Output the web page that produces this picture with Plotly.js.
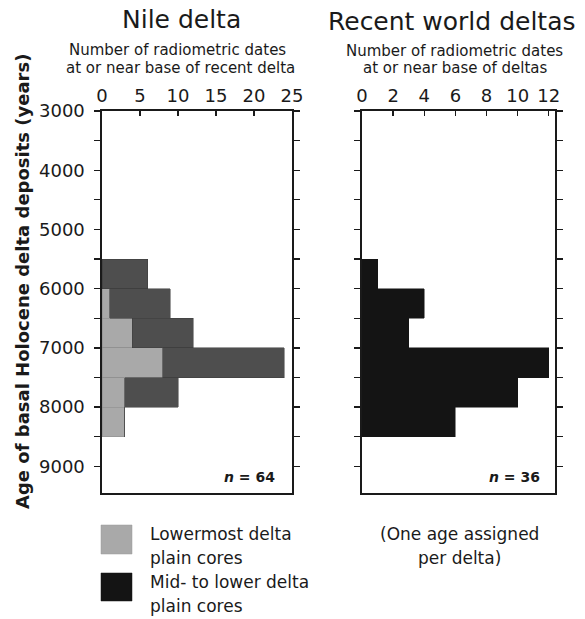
<!DOCTYPE html>
<html>
<head>
<meta charset="utf-8">
<script src="https://cdn.plot.ly/plotly-3.0.1.min.js"></script>
<style>html,body{margin:0;padding:0;background:#fff;}#chart{width:585px;height:619px;}</style>
</head>
<body>
<div id="chart"></div>
<script>
// Data (bins of 500 years, centre ages)
var binCenters = [5750, 6250, 6750, 7250, 7750, 8250];
var nileLowermost = [0, 1, 4, 8, 3, 3];      // Lowermost delta plain cores
var nileMidLower  = [6, 8, 8, 16, 7, 0];     // Mid- to lower delta plain cores (stacked)
var worldCounts   = [1, 4, 3, 12, 10, 6];    // Recent world deltas
var ageTicks = [3000, 3500, 4000, 4500, 5000, 5500, 6000, 6500, 7000, 7500, 8000, 8500, 9000];
var ageLabels = ['3000', '', '4000', '', '5000', '', '6000', '', '7000', '', '8000', '', '9000'];
var nileTicks = [0, 5, 10, 15, 20, 25];
var worldTicks = [0, 2, 4, 6, 8, 10, 12];

var W = 585, H = 619;
function px(x) { return x / W; }
function py(y) { return 1 - y / H; }

var F = 'DejaVu Sans, sans-serif';
var ink = '#1a1a1a';

var traces = [
  {type: 'bar', orientation: 'h', y: binCenters, x: nileLowermost, width: 500,
   marker: {color: '#a9a9a9', line: {color: '#8a8a8a', width: 0.5}}, xaxis: 'x', yaxis: 'y', hoverinfo: 'x+y'},
  {type: 'bar', orientation: 'h', y: binCenters, x: nileMidLower, width: 500,
   marker: {color: '#4e4e4e', line: {color: '#3a3a3a', width: 0.5}}, xaxis: 'x', yaxis: 'y', hoverinfo: 'x+y'},
  {type: 'bar', orientation: 'h', y: binCenters, x: worldCounts, width: 500,
   marker: {color: '#141414', line: {color: '#141414', width: 0.5}}, xaxis: 'x2', yaxis: 'y2', hoverinfo: 'x+y'}
];

var yBase = {
  domain: [py(493), py(111)], range: [9450, 3000], autorange: false,
  tickmode: 'array', tickvals: ageTicks, ticktext: ageLabels,
  ticks: 'outside', ticklen: 6, tickwidth: 1.3, tickcolor: ink,
  showline: true, linecolor: ink, linewidth: 1.6, mirror: 'ticks',
  showgrid: false, zeroline: false,
  tickfont: {family: F, size: 18, color: ink}, ticklabelstandoff: 6
};
var xBase = {
  side: 'top', ticks: 'inside', ticklen: 5, tickwidth: 1.3, tickcolor: ink,
  showline: true, linecolor: ink, linewidth: 1.6, mirror: true,
  showgrid: false, zeroline: false, tickmode: 'array',
  tickfont: {family: F, size: 18, color: ink}, ticklabelstandoff: 0
};

function note(text, x, y, size, anchor, extra) {
  var a = {text: text, x: px(x), y: py(y), xref: 'paper', yref: 'paper', showarrow: false,
           xanchor: anchor || 'center', yanchor: 'middle', font: {family: F, size: size, color: ink}};
  return Object.assign(a, extra || {});
}

var layout = {
  width: W, height: H,
  margin: {l: 0, r: 0, t: 0, b: 0},
  paper_bgcolor: '#ffffff', plot_bgcolor: '#ffffff',
  showlegend: false, barmode: 'stack', bargap: 0,
  xaxis: Object.assign({}, xBase, {domain: [px(102), px(292)], range: [0, 25], tickvals: nileTicks, anchor: 'y'}),
  yaxis: Object.assign({}, yBase, {anchor: 'x'}),
  xaxis2: Object.assign({}, xBase, {domain: [px(362), px(555)], range: [0, 12.4], tickvals: worldTicks, anchor: 'y2'}),
  yaxis2: Object.assign({}, yBase, {anchor: 'x2', showticklabels: false}),
  shapes: [
    {type: 'rect', xref: 'paper', yref: 'paper', x0: px(101), x1: px(132), y0: py(554), y1: py(525),
     fillcolor: '#a9a9a9', line: {color: '#9a9a9a', width: 0.5}},
    {type: 'rect', xref: 'paper', yref: 'paper', x0: px(101), x1: px(132), y0: py(601), y1: py(573),
     fillcolor: '#141414', line: {color: '#141414', width: 0.5}}
  ],
  annotations: [
    note('Nile delta', 181, 20, 25),
    note('Recent world deltas', 451, 22, 25),
    note('Number of radiometric dates', 178, 50, 15),
    note('at or near base of recent delta', 180, 68, 15),
    note('Number of radiometric dates', 454, 51, 15),
    note('at or near base of deltas', 455, 68, 15),
    {text: 'Age of basal Holocene delta deposits (years)', x: px(22), y: py(282), xref: 'paper', yref: 'paper',
     showarrow: false, textangle: -90, xanchor: 'center', yanchor: 'middle',
     font: {family: F, size: 18, color: ink, weight: 'bold'}},
    note('<i>n</i> = 64', 277, 477, 14, 'right', {font: {family: F, size: 14, color: ink, weight: 'bold'}}),
    note('<i>n</i> = 36', 542, 477, 14, 'right', {font: {family: F, size: 14, color: ink, weight: 'bold'}}),
    note('Lowermost delta', 148, 534, 17, 'left'),
    note('plain cores', 148, 558, 17, 'left'),
    note('Mid- to lower delta', 148, 582, 17, 'left'),
    note('plain cores', 148, 606, 17, 'left'),
    note('(One age assigned', 459, 534, 17),
    note('per delta)', 459, 558, 17)
  ]
};

Plotly.newPlot('chart', traces, layout, {staticPlot: true, displayModeBar: false});
</script>
</body>
</html>
